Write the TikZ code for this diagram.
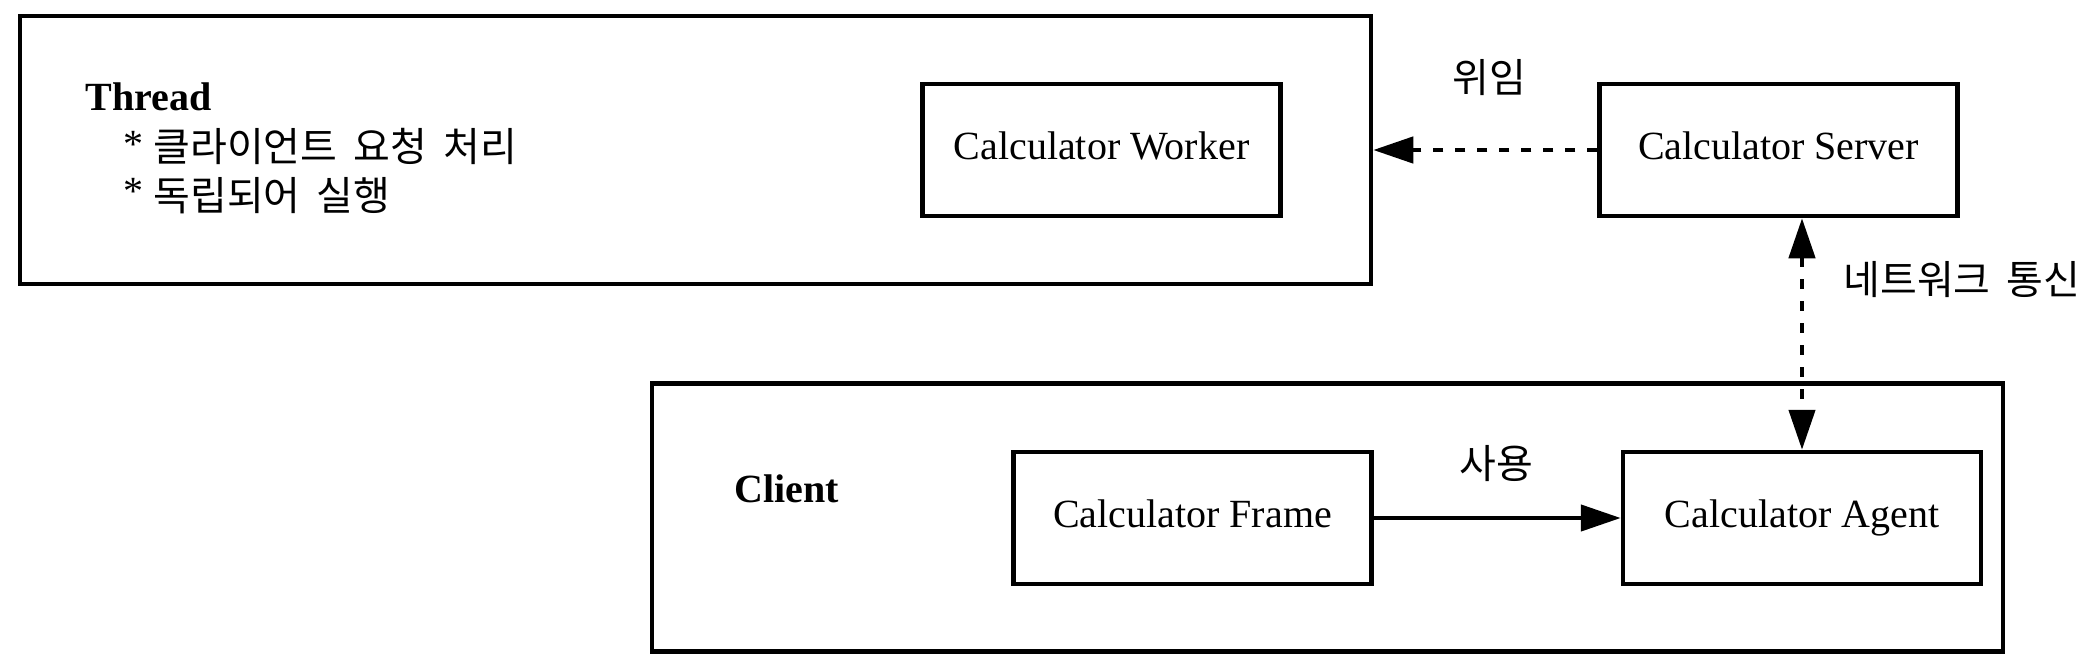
\documentclass[tikz,border=0pt]{standalone}
\usepackage{fontspec}
\setmainfont{Liberation Serif}
\newfontfamily\kr{Noto Sans CJK KR}[WordSpace=1.8]
\usetikzlibrary{arrows.meta}
\tikzset{
  box/.style={draw, line width=2.25pt, minimum width=179pt, minimum height=66pt,
    inner sep=0pt, text height=12pt, text depth=3pt, font=\fontsize{20}{24}\selectfont},
  bigbox/.style={draw, line width=2.25pt, minimum width=675.5pt, minimum height=134pt, inner sep=0pt},
  tip/.tip={Triangle[length=20pt,width=13pt]},
  conn/.style={line width=2.25pt, -tip},
  connboth/.style={line width=2.25pt, tip-tip},
  dsh/.style={dash pattern=on 5pt off 6pt},
  lbl/.style={font=\kr\fontsize{20}{24}\selectfont, inner sep=0pt},
  heading/.style={font=\bfseries\fontsize{20}{24}\selectfont, inner sep=0pt, anchor=base west},
  item/.style={font=\fontsize{20}{24}\selectfont, inner sep=0pt, anchor=base west}
}
\begin{document}
\begin{tikzpicture}[x=0.5pt,y=-0.5pt]
\useasboundingbox (0,0) rectangle (2100,670);
\node[bigbox] (thread) at (695.5,150) {};
\node[box] (worker) at (1101.5,150) {Calculator Worker};
\node[box] (server) at (1778.5,150) {Calculator Server};
\node[bigbox] (client) at (1327.5,517.5) {};
\node[box] (frame) at (1192.5,518) {Calculator Frame};
\node[box] (agent) at (1802,518) {Calculator Agent};

\node[heading] (tt) at (85,110) {Thread};
\node[item] (t1) at (123,157) {* \raisebox{-2pt}{\kr\fontsize{20}{24}\selectfont 클라이언트 요청 처리}};
\node[item] (t2) at (123,204) {* \raisebox{-3pt}{\kr\fontsize{20}{24}\selectfont 독립되어 실행}};
\node[heading] (ct) at (734,502) {Client};

\node[lbl] (l1) at (1489,78) {위임};
\node[lbl, anchor=west] (l2) at (1843,280) {네트워크 통신};
\node[lbl] (l3) at (1496,464) {사용};

\draw[conn, dsh] (server.west) -- (thread.east);
\draw[connboth, dsh] (agent.north |- server.south) -- (agent.north);
\draw[conn] (frame.east) -- (agent.west);
\end{tikzpicture}
\end{document}
